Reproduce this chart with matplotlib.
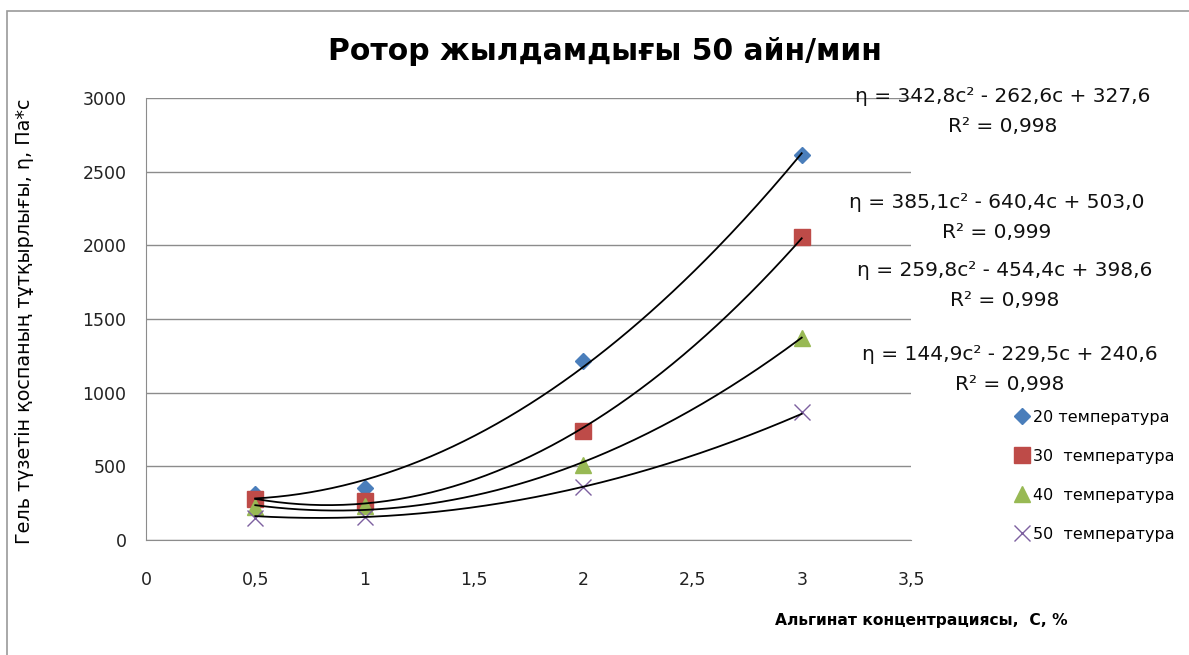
import matplotlib.pyplot as plt
import numpy as np
from matplotlib.patches import Rectangle

plt.rcParams['font.family'] = ['DejaVu Sans']

# alginate concentration, %
conc = [0.5, 1, 2, 3]

# viscosity at each temperature
t20 = [315, 352, 1215, 2613]
t30 = [276, 262, 742, 2059]
t40 = [225, 228, 509, 1369]
t50 = [150, 156, 358, 867]

labels = ['20 температура', '30  температура', '40  температура', '50  температура']

# quadratic trendline coefficients (a, b, c) and R^2 shown on the chart
coef20 = [342.8, -262.6, 327.6]
coef30 = [385.1, -640.4, 503.0]
coef40 = [259.8, -454.4, 398.6]
coef50 = [144.9, -229.5, 240.6]
r2 = [0.998, 0.999, 0.998, 0.998]

W, H = 1189, 655
fig = plt.figure(figsize=(W / 100, H / 100), dpi=100)
ax = fig.add_axes([146 / W, 1 - 540 / H, (911 - 146) / W, (540 - 98) / H])

series = [t20, t30, t40, t50]
coefs = [coef20, coef30, coef40, coef50]
colors = ['#4A7EBB', '#BE4B48', '#98B954', '#7D60A0']
markers = ['D', 's', '^', 'x']
sizes = [8.5, 11, 12, 11]

handles = []
for ys, col, mk, ms, lab in zip(series, colors, markers, sizes, labels):
    if mk == 'x':
        h, = ax.plot(conc, ys, ls='none', marker=mk, ms=ms, color=col, mew=1.0, zorder=3, label=lab)
    else:
        h, = ax.plot(conc, ys, ls='none', marker=mk, ms=ms, color=col, mec=col, zorder=3, label=lab)
    handles.append(h)

xs = np.linspace(conc[0], conc[-1], 200)
for cf in coefs:
    ax.plot(xs, np.polyval(cf, xs), color='black', lw=1.3, zorder=4)

ax.set_xlim(0, 3.5)
ax.set_ylim(0, 3000)
ax.set_xticks(np.arange(0, 3.51, 0.5))
ax.set_xticklabels([('%g' % v).replace('.', ',') for v in np.arange(0, 3.51, 0.5)])
ax.set_yticks(range(0, 3001, 500))
ax.yaxis.grid(True, color='#8c8c8c', lw=1.0)
ax.set_axisbelow(True)
for s in ['top', 'right']:
    ax.spines[s].set_visible(False)
ax.spines['left'].set_color('#8c8c8c')
ax.spines['bottom'].set_color('#8c8c8c')
ax.tick_params(axis='both', length=0, labelsize=12.5, colors='#222222')
ax.tick_params(axis='x', pad=22)
ax.tick_params(axis='y', pad=14)

# trendline equations
eq_pos = [(1003, 96, 127), (997, 202, 233), (1005, 270, 300), (1010, 355, 385)]
for cf, r, (cx, ye, yr) in zip(coefs, r2, eq_pos):
    eq = 'η = %.1fc² - %.1fc + %.1f' % (cf[0], abs(cf[1]), cf[2])
    fig.text(cx / W, 1 - ye / H, eq.replace('.', ','), ha='center', va='center', fontsize=14.5, color='#111111')
    fig.text(cx / W, 1 - yr / H, ('R² = %.3f' % r).replace('.', ','), ha='center', va='center', fontsize=14.5, color='#111111')

fig.legend(handles=handles, loc='upper left', bbox_to_anchor=(1008 / W, 1 - 402 / H),
           frameon=False, fontsize=11.5, handlelength=0.8, handletextpad=0.25,
           labelspacing=1.5, borderpad=0)

fig.text(605 / W, 1 - 52 / H, 'Ротор жылдамдығы 50 айн/мин', ha='center', va='center',
         fontsize=21.5, fontweight='bold')
fig.text(921 / W, 1 - 620 / H, 'Альгинат концентрациясы,  С, %', ha='center', va='center',
         fontsize=11.2, fontweight='bold')
fig.text(25 / W, 1 - 321 / H, 'Гель түзетін қоспаның тұтқырлығы, η, Па*с', ha='center', va='center',
         rotation=90, fontsize=13.8)

# outer chart border
fig.patches.append(Rectangle((7 / W, -0.1), 1.2, 1.1 - 11 / H, transform=fig.transFigure,
                             fill=False, edgecolor='#9a9a9a', lw=1.2))

fig.savefig('out.png', dpi=100)
